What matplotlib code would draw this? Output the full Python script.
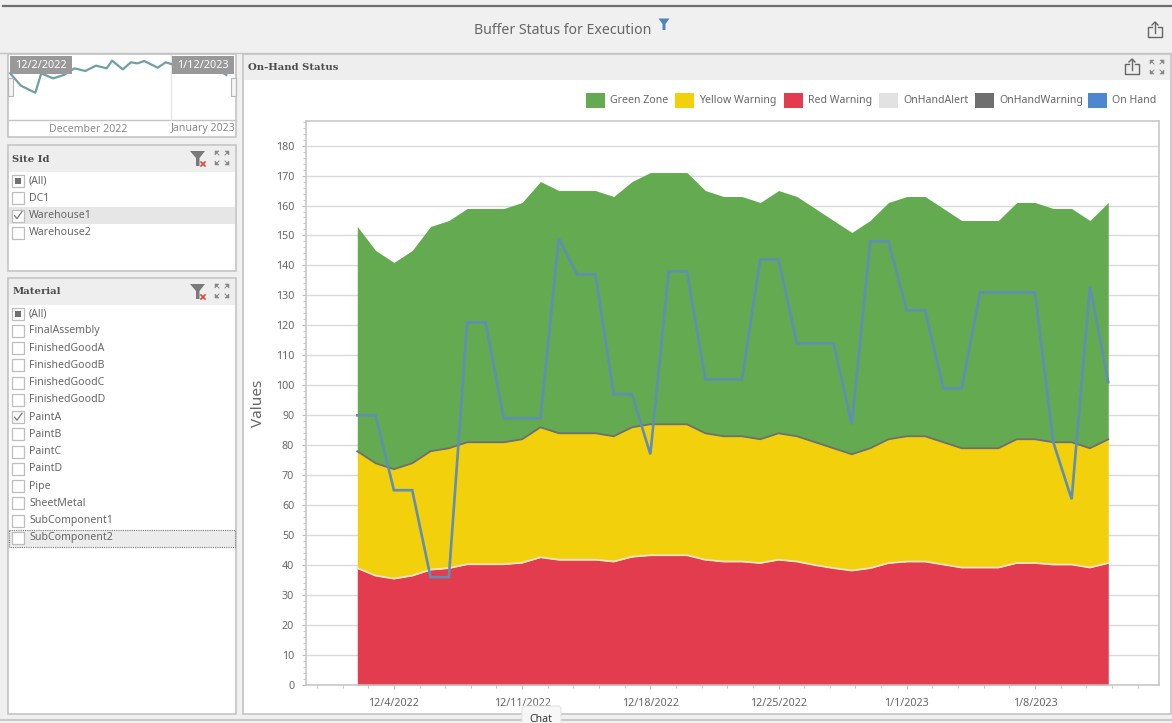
import numpy as np
import pandas as pd
import matplotlib
matplotlib.use("Agg")
import matplotlib.pyplot as plt
import matplotlib.dates as mdates
from matplotlib.patches import Rectangle, Polygon, FancyBboxPatch
from matplotlib.ticker import FixedLocator, MultipleLocator

plt.rcParams['font.family'] = ['Noto Sans', 'DejaVu Sans']

# daily values, 12/2/2022 to 1/12/2023
dates = pd.date_range("2022-12-02", "2023-01-12", freq="D")
green_top = [153, 145, 141, 145, 153, 155, 159, 159, 159, 161, 168, 165, 165, 165,
             163, 168, 171, 171, 171, 165, 163, 163, 161, 165, 163, 159, 155, 151,
             155, 161, 163, 163, 159, 155, 155, 155, 161, 161, 159, 159, 155, 161]
yellow_top = [78, 74, 72, 74, 78, 79, 81, 81, 81, 82, 86, 84, 84, 84,
              83, 86, 87, 87, 87, 84, 83, 83, 82, 84, 83, 81, 79, 77,
              79, 82, 83, 83, 81, 79, 79, 79, 82, 82, 81, 81, 79, 82]
red_top = [39, 36.5, 35.5, 36.5, 38.5, 39, 40.3, 40.3, 40.3, 40.8, 42.6, 41.8, 41.8, 41.8,
           41.2, 42.8, 43.3, 43.3, 43.3, 41.8, 41.2, 41.2, 40.7, 41.8, 41.2, 40, 39, 38.2,
           39, 40.7, 41.2, 41.2, 40.2, 39.2, 39.2, 39.2, 40.7, 40.7, 40.2, 40.2, 39.2, 40.7]
on_hand = [90, 90, 65, 65, 36, 36, 121, 121, 89, 89, 89, 149, 137, 137,
           97, 97, 77, 138, 138, 102, 102, 102, 142, 142, 114, 114, 114, 87,
           148, 148, 125, 125, 99, 99, 131, 131, 131, 131, 81, 62, 133, 101]

# overview line in the range selector
mini_days = [0, 2, 4, 4.7, 5.8, 8, 10, 12, 14, 16, 18, 19, 21, 22.5, 23.75, 25, 27.5, 29, 30.6, 33, 37, 40.3]
mini_vals = [157.5, 139, 131, 128.5, 157.5, 150, 155, 165, 161, 169, 165, 176.5, 163.5, 174,
             172.5, 176, 166, 174, 170, 170, 172, 155]

y_ticks = list(range(0, 190, 10))
x_tick_dates = ["2022-12-04", "2022-12-11", "2022-12-18", "2022-12-25", "2023-01-01", "2023-01-08"]
x_tick_labels = ["12/4/2022", "12/11/2022", "12/18/2022", "12/25/2022", "1/1/2023", "1/8/2023"]

legend_labels = ["Green Zone", "Yellow Warning", "Red Warning", "OnHandAlert", "OnHandWarning", "On Hand"]
legend_colors = ["#64aa50", "#f2d00c", "#e23c4e", "#e2e2e2", "#6f6f6f", "#4f86d0"]
legend_x = [586, 675, 784, 879, 975, 1088]

site_items = ["(All)", "DC1", "Warehouse1", "Warehouse2"]
site_state = ["mixed", "off", "on", "off"]
material_items = ["(All)", "FinalAssembly", "FinishedGoodA", "FinishedGoodB", "FinishedGoodC",
                  "FinishedGoodD", "PaintA", "PaintB", "PaintC", "PaintD", "Pipe", "SheetMetal",
                  "SubComponent1", "SubComponent2"]
material_state = ["mixed", "off", "off", "off", "off", "off", "on", "off", "off", "off", "off",
                  "off", "off", "off"]

W, H = 1172, 723
TXT = "#666666"
BORDER = "#c4c4c4"
HEAD = "#eeeeee"

fig = plt.figure(figsize=(W / 100, H / 100), dpi=100, facecolor="#f0f0f0")


def px_axes(x0, y0, x1, y1, **kw):
    return fig.add_axes([x0 / W, 1 - y1 / H, (x1 - x0) / W, (y1 - y0) / H], **kw)


# whole page in pixels, used for the dashboard chrome
ui = px_axes(0, 0, W, H, zorder=0)
ui.set_xlim(0, W)
ui.set_ylim(H, 0)
ui.axis("off")

# top layer for what sits over the charts
top = px_axes(0, 0, W, H, zorder=5)
top.set_xlim(0, W)
top.set_ylim(H, 0)
top.axis("off")
top.patch.set_alpha(0)


def panel(x0, y0, x1, y1, title=None, head_h=27):
    ui.add_patch(Rectangle((x0, y0), x1 - x0, y1 - y0, fc="white", ec=BORDER, lw=1.2))
    if title:
        ui.add_patch(Rectangle((x0 + 1, y0 + 1), x1 - x0 - 2, head_h - 1, fc=HEAD, ec="none"))
        ui.text(x0 + 5, y0 + head_h / 2 + 0.5, title, fontsize=7.3, fontweight="bold",
                color="#4c4c4c", va="center", family="DejaVu Serif")


def share_icon(x, y):
    ui.plot([x - 3, x - 7, x - 7, x + 7, x + 7, x + 3], [y - 3, y - 3, y + 7, y + 7, y - 3, y - 3],
            color="#666666", lw=1)
    ui.plot([x, x], [y + 3, y - 8], color="#666666", lw=1)
    ui.plot([x - 3, x, x + 3], [y - 5, y - 8, y - 5], color="#666666", lw=1)


def expand_icon(x, y):
    for sx, sy in [(-1, -1), (1, -1), (-1, 1), (1, 1)]:
        ui.add_patch(Polygon([(x + sx * 7, y + sy * 7), (x + sx * 3, y + sy * 7), (x + sx * 7, y + sy * 3)],
                             fc="#888888", ec="#888888", lw=0.4))
        ui.plot([x + sx * 6, x + sx * 3], [y + sy * 6, y + sy * 3], color="#888888", lw=0.7)


def clear_filter_icon(x, y):
    ui.add_patch(Polygon([(x - 8, y - 7), (x + 7, y - 7), (x + 1.5, y), (x + 1.5, y + 8), (x - 2, y + 8), (x - 2, y)],
                         fc="#7a7a7a", ec="none"))
    ui.plot([x + 3, x + 7], [y + 4, y + 8], color="#d9483b", lw=1.2)
    ui.plot([x + 7, x + 3], [y + 4, y + 8], color="#d9483b", lw=1.2)


def checklist(items, states, y_first, step, x0, x1, shaded=None):
    for i, (item, state) in enumerate(zip(items, states)):
        y = y_first + i * step
        if i == shaded:
            ui.add_patch(Rectangle((x0 + 1, y - step / 2), x1 - x0 - 2, step, fc="#e6e6e6", ec="none"))
        ui.add_patch(Rectangle((x0 + 4.5, y - 6), 12, 12, fc="white", ec="#bdbdbd", lw=0.9))
        if state == "mixed":
            ui.add_patch(Rectangle((x0 + 7.5, y - 3), 6, 6, fc="#707070", ec="none"))
        if state == "on":
            ui.plot([x0 + 7, x0 + 9.5, x0 + 14.5], [y, y + 3, y - 4], color="#777777", lw=0.9)
        ui.text(x0 + 21.5, y, item, fontsize=7.6, color=TXT, va="center")


# page frame and dashboard title
ui.plot([3, W], [5.5, 5.5], color="#6e6e6e", lw=1.6)
ui.plot([0, W], [53, 53], color=BORDER, lw=1)
ui.text(562.5, 30, "Buffer Status for Execution", fontsize=10.2, color=TXT, ha="center", va="center")
ui.add_patch(Polygon([(658.5, 18.5), (669.5, 18.5), (665.5, 24), (665.5, 30), (662.5, 30), (662.5, 24)],
                     fc="#4a86c0", ec="none"))
share_icon(1155, 30)

# range selector panel
panel(7.5, 54, 236, 137)
ui.plot([8, 236], [120, 120], color=BORDER, lw=1)
ui.plot([171, 171], [55, 120], color="#e4e4e4", lw=1)
ui.text(88, 129, "December 2022", fontsize=7.6, color="#8a8a8a", ha="center", va="center")
ui.text(203, 129, "January 2023", fontsize=7.6, color="#8a8a8a", ha="center", va="center")

mini = px_axes(8, 55, 236, 120, zorder=2)
mini.patch.set_alpha(0)
mini.axis("off")
mini.set_xlim(-0.4, 42.1)
mini.set_ylim(87.5, 185)
mini.plot(mini_days, mini_vals, color="#6f9fa6", lw=1.6)

for x0, x1, label in [(10, 72, "12/2/2022"), (172, 234, "1/12/2023")]:
    top.add_patch(Rectangle((x0, 56), x1 - x0, 18, fc="#999999", ec="none"))
    top.text((x0 + x1) / 2, 65, label, fontsize=7.8, color="white", ha="center", va="center")
for x0 in [8, 231]:
    top.add_patch(Rectangle((x0, 78), 5, 18, fc="#f4f4f4", ec="#b5b5b5", lw=0.8))

# slicer panels
panel(7.5, 145, 236, 271, "Site Id")
clear_filter_icon(198, 158)
expand_icon(222, 158)
checklist(site_items, site_state, 181, 17.3, 7.5, 236, shaded=2)

panel(7.5, 278, 236, 714, "Material")
clear_filter_icon(198, 291)
expand_icon(222, 291)
ui.add_patch(Rectangle((8.5, 529.5), 226.5, 17, fc="#ececec", ec="#777777", lw=0.8, ls=(0, (1, 1))))
checklist(material_items, material_state, 313.7, 17.25, 7.5, 236)

# main chart panel
panel(243, 54, 1171, 714, "On-Hand Status", head_h=26)
share_icon(1132, 67)
expand_icon(1157, 67)

for label, color, x in zip(legend_labels, legend_colors, legend_x):
    ui.add_patch(Rectangle((x, 93), 18.5, 14.5, fc=color, ec="none"))
    ui.text(x + 24.5, 100.5, label, fontsize=7.6, color=TXT, va="center")

ax = px_axes(306, 121, 1159, 685, zorder=2)
x_num = mdates.date2num(dates)
major = mdates.date2num(pd.to_datetime(x_tick_dates))
ax.fill_between(x_num, 0, red_top, color=legend_colors[2], lw=0, zorder=2)
ax.fill_between(x_num, red_top, yellow_top, color=legend_colors[1], lw=0, zorder=2)
ax.fill_between(x_num, yellow_top, green_top, color=legend_colors[0], lw=0, zorder=2)
ax.plot(x_num, red_top, color="#ece6c4", lw=1.3, zorder=3)
ax.plot(x_num, yellow_top, color="#6f6f6f", lw=1.3, zorder=3)
ax.plot(x_num, on_hand, color="#5f8fb4", lw=1.9, zorder=4, solid_joinstyle="miter")

ax.set_ylim(0, 188.2)
ax.set_xlim(major[0] - 4.8, major[0] + 41.77)
ax.set_yticks(y_ticks)
ax.yaxis.set_minor_locator(MultipleLocator(2))
ax.set_xticks(major)
ax.set_xticklabels(x_tick_labels)
ax.xaxis.set_minor_locator(FixedLocator(major[0] + np.arange(-3, 30) * 1.4))
ax.grid(axis="y", color="#d9d9d9", lw=1, zorder=1)
ax.set_axisbelow(True)
ax.tick_params(axis="both", which="major", labelsize=7.7, labelcolor=TXT, color="#bdbdbd", length=3, width=0.8)
ax.tick_params(axis="both", which="minor", color="#c8c8c8", length=2, width=0.7)
ax.tick_params(axis="x", which="major", pad=6)
ax.tick_params(axis="y", which="major", pad=5.5)
for s in ax.spines.values():
    s.set_color("#c4c4c4")
    s.set_linewidth(1.1)
ui.text(259, 403, "Values", fontsize=11, color=TXT, rotation=90, ha="center", va="center")

# bottom edge and the chat tab on top of it
ui.plot([0, W], [720, 720], color="#c8c8c8", lw=1.5)
top.add_patch(FancyBboxPatch((522, 706), 39, 20, boxstyle="round,pad=0,rounding_size=3",
                             fc="#f7f7f7", ec="#e4e4e4", lw=0.8))
top.text(541, 719, "Chat", fontsize=7.6, color="#333333", ha="center", va="center")

fig.savefig("out.png", dpi=100, facecolor=fig.get_facecolor())
